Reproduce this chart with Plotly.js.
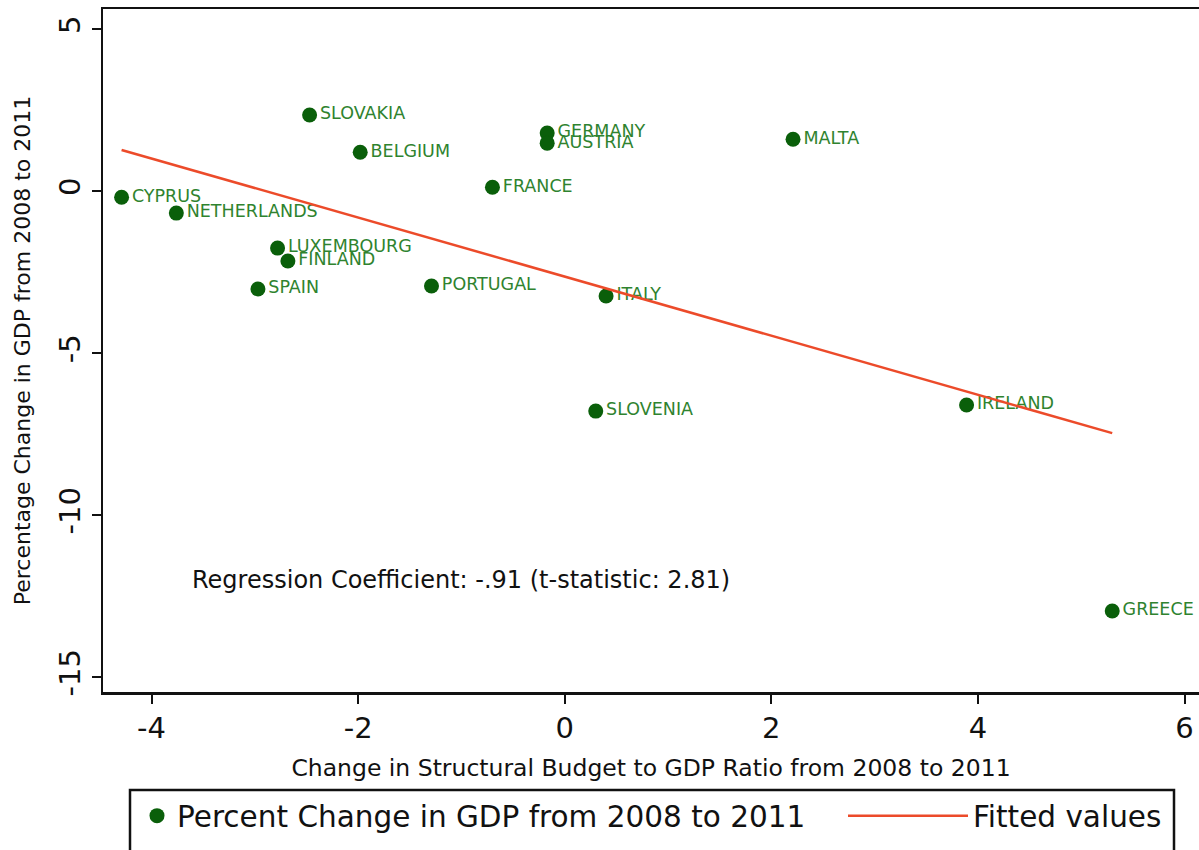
<!DOCTYPE html>
<html>
<head>
<meta charset="utf-8">
<script src="https://cdn.plot.ly/plotly-3.0.1.min.js"></script>
<style>html,body{margin:0;padding:0;background:#fff;}#chart{width:1199px;height:850px;}</style>
</head>
<body>
<div id="chart"></div>
<script>
// Data
const countries = ["CYPRUS","NETHERLANDS","SLOVAKIA","BELGIUM","LUXEMBOURG","FINLAND","SPAIN","PORTUGAL","FRANCE","GERMANY","AUSTRIA","MALTA","ITALY","SLOVENIA","IRELAND","GREECE"];
const budgetChange = [-4.29,-3.76,-2.47,-1.98,-2.78,-2.68,-2.97,-1.29,-0.70,-0.17,-0.17,2.21,0.40,0.30,3.89,5.30];
const gdpChange = [-0.19,-0.68,2.35,1.20,-1.76,-2.16,-3.02,-2.93,0.12,1.79,1.48,1.60,-3.24,-6.79,-6.60,-12.96];
const fitX = [-4.29, 5.30];
const fitY = [1.27, -7.47];
const xTicks = [-4,-2,0,2,4,6];
const yTicks = [-15,-10,-5,0,5];

const FONT = "DejaVu Sans, Verdana, sans-serif";

const traces = [
  {
    x: budgetChange, y: gdpChange, text: countries,
    type: "scatter", mode: "markers+text",
    name: "Percent Change in GDP from 2008 to 2011",
    marker: {color: "#0a5f0a", size: 15},
    textposition: "middle right",
    textfont: {family: FONT, size: 17.5, color: "#2f832f"},
    cliponaxis: false,
    legend: "legend"
  },
  {
    x: fitX, y: fitY, type: "scatter", mode: "lines",
    name: "Fitted values",
    line: {color: "#ec4b2a", width: 2.5},
    legend: "legend2"
  }
];

const W = 1199, H = 850, ML = 103, MR = 0, MT = 9, MB = 158;
const px = v => (v - ML) / (W - ML - MR);
const py = v => (H - MB - v) / (H - MT - MB);

const legendCommon = {
  orientation: "h", xref: "container", yref: "container",
  xanchor: "left", yanchor: "top",
  borderwidth: 0, bgcolor: "rgba(0,0,0,0)",
  font: {family: FONT, size: 29.5, color: "#111"}
};

const layout = {
  width: W, height: H,
  margin: {l: ML, r: MR, t: MT, b: MB},
  paper_bgcolor: "#fff", plot_bgcolor: "#fff",
  font: {family: FONT, color: "#111"},
  showlegend: true,
  xaxis: {
    range: [-4.47, 6.14], tickvals: xTicks, ticktext: xTicks.map(String),
    showgrid: false, zeroline: false,
    showline: true, linecolor: "#111", linewidth: 2.5, mirror: true,
    ticks: "outside", ticklen: 9, tickwidth: 2, tickcolor: "#111",
    tickfont: {family: FONT, size: 29, color: "#111"},
    title: {text: "Change in Structural Budget to GDP Ratio from 2008 to 2011", font: {family: FONT, size: 23.5, color: "#111"}, standoff: 16},
    automargin: false
  },
  yaxis: {
    range: [-15.46, 5.62], tickvals: yTicks, ticktext: yTicks.map(String),
    showgrid: false, zeroline: false,
    showline: true, linecolor: "#111", linewidth: 2.5,
    ticks: "outside", ticklen: 9, tickwidth: 2, tickcolor: "#111",
    tickangle: -90,
    tickfont: {family: FONT, size: 29, color: "#111"},
    title: {text: "Percentage Change in GDP from 2008 to 2011", font: {family: FONT, size: 22, color: "#111"}, standoff: 16},
    automargin: false
  },
  legend: Object.assign({}, legendCommon, {x: 137 / W, y: 60 / H}),
  legend2: Object.assign({}, legendCommon, {x: 843 / W, y: 60 / H, itemwidth: 120}),
  shapes: [{
    type: "rect", xref: "paper", yref: "paper",
    x0: px(130), x1: px(1174), y0: py(790), y1: py(853),
    line: {color: "#111", width: 2.5}, fillcolor: "rgba(0,0,0,0)", layer: "below"
  }],
  annotations: [{
    x: -3.63, y: -12.0, xref: "x", yref: "y",
    xanchor: "left", yanchor: "middle", showarrow: false,
    text: "Regression Coefficient: -.91 (t-statistic: 2.81)",
    font: {family: FONT, size: 24, color: "#111"}
  }]
};

Plotly.newPlot("chart", traces, layout, {staticPlot: true, displayModeBar: false});
</script>
</body>
</html>
